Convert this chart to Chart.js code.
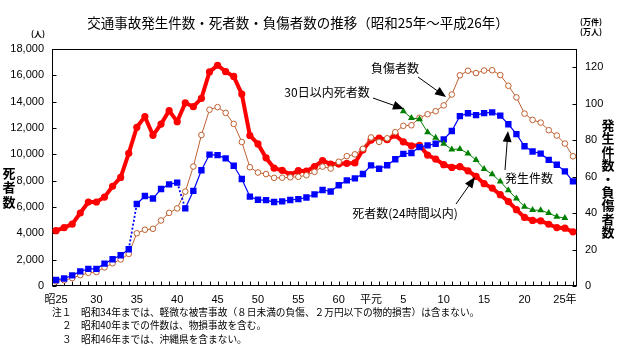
<!DOCTYPE html>
<html lang="ja">
<head>
<meta charset="utf-8">
<title>交通事故発生件数・死者数・負傷者数の推移</title>
<script src="https://cdn.jsdelivr.net/npm/chart.js@4.4.1/dist/chart.umd.min.js"></script>
<style>
html, body { margin: 0; padding: 0; background: #fff; }
#wrap { position: relative; width: 620px; height: 348px; }
</style>
</head>
<body>
<div id="wrap"><canvas id="accidentChart" width="620" height="348"></canvas></div>
<script>
// 昭和25年(1950) ～ 平成26年(2014)
const years = [
    1950, 1951, 1952, 1953, 1954, 1955, 1956, 1957, 1958, 1959,
    1960, 1961, 1962, 1963, 1964, 1965, 1966, 1967, 1968, 1969,
    1970, 1971, 1972, 1973, 1974, 1975, 1976, 1977, 1978, 1979,
    1980, 1981, 1982, 1983, 1984, 1985, 1986, 1987, 1988, 1989,
    1990, 1991, 1992, 1993, 1994, 1995, 1996, 1997, 1998, 1999,
    2000, 2001, 2002, 2003, 2004, 2005, 2006, 2007, 2008, 2009,
    2010, 2011, 2012, 2013, 2014
];
const tickYears = [1950, 1955, 1960, 1965, 1970, 1975, 1980, 1985, 1989, 1993, 1998, 2003, 2008, 2013];
const tickText = ['昭25', '30', '35', '40', '45', '50', '55', '60', '平元', '5', '10', '15', '20', '25年'];

// 死者数（24時間以内）人
const deaths24h = [
    4202, 4429, 4696, 5544, 6374, 6379, 6751, 7575, 8248, 10079,
    12055, 12865, 11445, 12301, 13318, 12484, 13904, 13618, 14256, 16257,
    16765, 16278, 15918, 14574, 11432, 10792, 9734, 8945, 8783, 8466,
    8760, 8719, 9073, 9520, 9262, 9261, 9317, 9347, 10344, 11086,
    11227, 11109, 11452, 10942, 10649, 10684, 9942, 9640, 9211, 9006,
    9066, 8747, 8326, 7768, 7436, 6937, 6415, 5796, 5209, 4979,
    4948, 4691, 4438, 4388, 4113
];
// 30日以内死者数 人（平成5年から）
const deaths30dFrom = 1993;
const deaths30d = [
    13269, 12768, 12670, 11674, 11254, 10805, 10372, 10403, 10060, 9575,
    8877, 8492, 7931, 7272, 6639, 6023, 5772, 5745, 5535, 5261, 5165
];
// 発生件数 万件
const accidents = [
    3.32, 4.14, 5.85, 8.00, 9.39, 9.40, 12.27, 14.68, 16.88, 20.13,
    44.99, 49.37, 47.98, 53.20, 55.72, 56.73, 42.59, 52.15, 63.51, 72.09,
    71.81, 70.03, 65.93, 58.67, 49.05, 47.29, 47.10, 46.06, 46.40, 47.16,
    47.67, 48.56, 50.23, 52.64, 51.86, 55.28, 57.92, 59.07, 61.45, 66.14,
    64.31, 66.24, 69.53, 72.47, 72.95, 76.18, 77.11, 78.04, 80.39, 85.04,
    93.20, 94.73, 93.70, 94.83, 95.27, 93.43, 88.73, 83.27, 76.64, 73.76,
    72.59, 69.21, 66.52, 62.90, 57.38
];
// 負傷者数 万人
const injured = [
    2.55, 3.13, 4.33, 5.93, 7.24, 7.65, 10.21, 12.45, 14.54, 17.60,
    28.92, 30.87, 31.38, 35.91, 40.11, 42.57, 51.78, 65.54, 82.81, 96.70,
    98.11, 94.97, 88.92, 78.99, 65.14, 62.25, 61.40, 59.32, 59.41, 59.63,
    59.87, 60.73, 62.62, 65.48, 64.43, 68.13, 71.23, 72.22, 75.28, 81.48,
    79.03, 81.02, 84.40, 87.86, 88.17, 92.27, 94.22, 95.89, 99.07, 105.04,
    115.57, 118.10, 116.80, 118.17, 118.36, 115.71, 109.86, 103.47, 94.57, 91.12,
    89.63, 85.46, 82.54, 78.15, 71.14
];
// 件数の定義が変わる年の区間（34→35年、40→41年）は点線
const dottedFrom = [1959, 1965];

const JP = '"Noto Sans CJK JP", sans-serif';
const NUM = '"Liberation Sans Narrow", "Liberation Sans", "Noto Sans CJK JP", sans-serif';

const deaths30dSeries = years.map(y => {
    const i = y - deaths30dFrom;
    return (i >= 0 && i < deaths30d.length) ? deaths30d[i] : null;
});

function drawArrow(ctx, x1, y1, x2, y2) {
    const a = Math.atan2(y2 - y1, x2 - x1);
    const c = Math.cos(a), s = Math.sin(a);
    ctx.beginPath();
    ctx.moveTo(x1, y1);
    ctx.lineTo(x2 - 7 * c, y2 - 7 * s);
    ctx.stroke();
    ctx.beginPath();
    ctx.moveTo(x2, y2);
    ctx.lineTo(x2 - 11 * c + 4.5 * s, y2 - 11 * s - 4.5 * c);
    ctx.lineTo(x2 - 11 * c - 4.5 * s, y2 - 11 * s + 4.5 * c);
    ctx.closePath();
    ctx.fill();
}

const frameAndNotes = {
    id: 'frameAndNotes',
    beforeDatasetsDraw(chart) {
        const { ctx, chartArea: a, scales } = chart;
        ctx.save();
        ctx.strokeStyle = '#000';
        ctx.lineWidth = 1;
        const L = Math.round(a.left) + 0.5, R = Math.round(a.right) - 0.5;
        const T = Math.round(a.top) + 0.5, B = Math.round(a.bottom) - 0.5;
        ctx.strokeRect(L, T, R - L, B - T);
        // inward tick marks
        ctx.beginPath();
        years.forEach((y, i) => {
            const x = Math.round(scales.x.getPixelForValue(i)) + 0.5;
            ctx.moveTo(x, B);
            ctx.lineTo(x, B - 4);
        });
        scales.y.ticks.forEach(t => {
            const y = Math.round(scales.y.getPixelForValue(t.value)) + 0.5;
            ctx.moveTo(L, y);
            ctx.lineTo(L + 4, y);
        });
        scales.y2.ticks.forEach(t => {
            const y = Math.round(scales.y2.getPixelForValue(t.value)) + 0.5;
            ctx.moveTo(R, y);
            ctx.lineTo(R - 4, y);
        });
        ctx.stroke();
        ctx.restore();
    },
    afterDraw(chart) {
        const { ctx } = chart;
        ctx.save();
        ctx.fillStyle = '#000';
        ctx.strokeStyle = '#000';
        ctx.textBaseline = 'middle';

        ctx.textAlign = 'center';
        ctx.font = '13.5px ' + JP;
        ctx.fillText('交通事故発生件数・死者数・負傷者数の推移（昭和25年～平成26年）', 298, 23);

        ctx.font = 'bold 8px ' + JP;
        ctx.fillText('(人)', 38, 34);
        ctx.fillText('(万件)', 591, 22);
        ctx.fillText('(万人)', 591, 32);

        // vertical axis titles
        ctx.font = 'bold 13px ' + JP;
        ['死', '者', '数'].forEach((ch, i) => ctx.fillText(ch, 9, 173 + i * 14.5));
        '発生件数・負傷者数'.split('').forEach((ch, i) => ctx.fillText(ch, 608, 125 + i * 13.4));

        // series annotations
        ctx.font = '12px ' + JP;
        ctx.fillText('負傷者数', 395, 68);
        ctx.fillText('30日以内死者数', 327, 92);
        ctx.fillText('発生件数', 529, 178);
        ctx.fillText('死者数(24時間以内)', 405, 213);
        ctx.lineWidth = 1;
        drawArrow(ctx, 418, 77, 446, 97);
        drawArrow(ctx, 373, 98, 404, 109);
        drawArrow(ctx, 505, 170, 508, 131);
        drawArrow(ctx, 456, 204, 475, 177);

        // notes
        ctx.textAlign = 'left';
        ctx.font = '9.7px ' + JP;
        ctx.fillText('注１', 52, 312);
        ctx.fillText('２', 62, 325.5);
        ctx.fillText('３', 62, 339);
        ctx.fillText('昭和34年までは、軽微な被害事故（８日未満の負傷、２万円以下の物的損害）は含まない。', 81, 312);
        ctx.fillText('昭和40年までの件数は、物損事故を含む。', 81, 325.5);
        ctx.fillText('昭和46年までは、沖縄県を含まない。', 81, 339);
        ctx.restore();
    }
};

new Chart(document.getElementById('accidentChart'), {
    type: 'line',
    data: {
        labels: years,
        datasets: [
            {
                label: '30日以内死者数',
                data: deaths30dSeries,
                yAxisID: 'y',
                borderColor: '#008000',
                backgroundColor: '#008000',
                borderWidth: 1,
                pointStyle: 'triangle',
                pointRadius: 4,
                pointBorderWidth: 0,
                tension: 0
            },
            {
                label: '発生件数',
                data: accidents,
                yAxisID: 'y2',
                borderColor: '#0000FF',
                backgroundColor: '#0000FF',
                borderWidth: 1.2,
                pointStyle: 'rect',
                pointRadius: 4.5,
                pointBorderWidth: 0,
                tension: 0,
                segment: {
                    borderDash: ctx => dottedFrom.includes(years[ctx.p0DataIndex]) ? [2, 2] : undefined,
                    borderWidth: ctx => dottedFrom.includes(years[ctx.p0DataIndex]) ? 1.8 : undefined
                }
            },
            {
                label: '負傷者数',
                data: injured,
                yAxisID: 'y2',
                borderColor: '#BF5F2F',
                backgroundColor: '#FFFFFF',
                borderWidth: 1,
                pointStyle: 'circle',
                pointRadius: 2.8,
                pointBorderWidth: 1,
                pointBorderColor: '#BF5F2F',
                pointBackgroundColor: '#FFFFFF',
                tension: 0
            },
            {
                label: '死者数(24時間以内)',
                data: deaths24h,
                yAxisID: 'y',
                borderColor: '#FF0000',
                backgroundColor: '#FF0000',
                borderWidth: 4,
                pointStyle: 'circle',
                pointRadius: 3.6,
                pointBorderWidth: 0,
                tension: 0
            }
        ]
    },
    options: {
        responsive: false,
        animation: false,
        spanGaps: false,
        layout: { padding: { top: 49, left: 0, right: 0, bottom: 0 } },
        plugins: {
            legend: { display: false },
            tooltip: { enabled: false }
        },
        scales: {
            x: {
                type: 'category',
                offset: true,
                grid: { display: false, drawTicks: false },
                border: { display: false },
                ticks: {
                    autoSkip: false,
                    maxRotation: 0,
                    padding: 7,
                    color: '#000',
                    font: { family: NUM, size: 11 },
                    callback: function(value, index) {
                        const k = tickYears.indexOf(years[index]);
                        return k < 0 ? '' : tickText[k];
                    }
                },
                afterFit: s => { s.height = 62; }
            },
            y: {
                position: 'left',
                min: 0,
                max: 18000,
                grid: { display: false, drawTicks: false },
                border: { display: false },
                ticks: {
                    stepSize: 2000,
                    padding: 8,
                    color: '#000',
                    font: { family: NUM, size: 11 },
                    callback: v => v.toLocaleString('en-US')
                },
                afterFit: s => { s.width = 52; }
            },
            y2: {
                position: 'right',
                min: 0,
                max: 130,
                grid: { display: false, drawTicks: false },
                border: { display: false },
                ticks: {
                    stepSize: 20,
                    padding: 8,
                    color: '#000',
                    font: { family: NUM, size: 11 }
                },
                afterBuildTicks: s => { s.ticks = s.ticks.filter(t => t.value <= 120); },
                afterFit: s => { s.width = 43; }
            }
        }
    },
    plugins: [frameAndNotes]
});
</script>
</body>
</html>
